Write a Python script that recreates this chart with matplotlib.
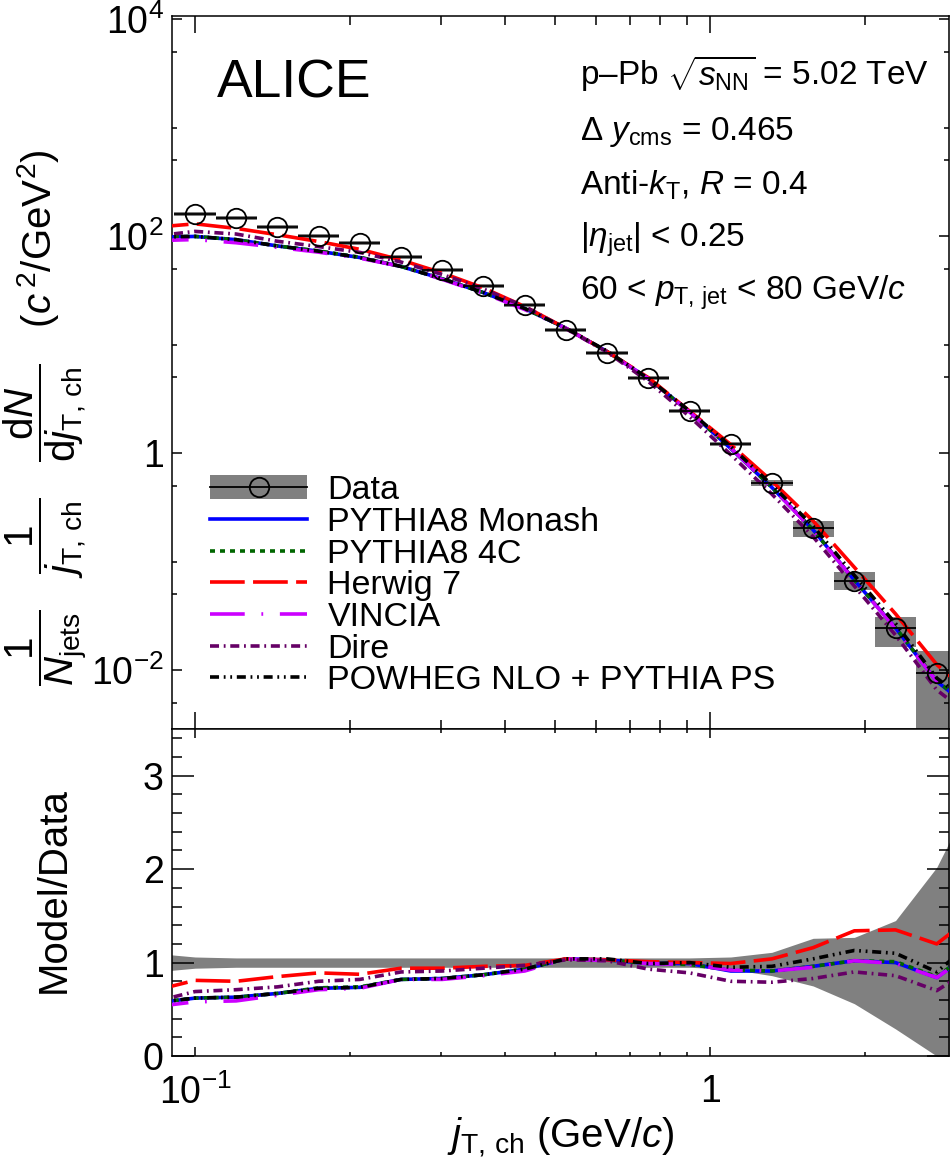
import matplotlib
matplotlib.use('Agg')
import matplotlib.pyplot as plt
import numpy as np
from matplotlib.patches import Patch
from matplotlib.lines import Line2D
from matplotlib.legend_handler import HandlerTuple
from matplotlib.ticker import FixedLocator, FixedFormatter, NullFormatter

plt.rcParams['font.family'] = ['Liberation Sans', 'DejaVu Sans']
plt.rcParams['mathtext.fontset'] = 'custom'
plt.rcParams['mathtext.rm'] = 'Liberation Sans'
plt.rcParams['mathtext.it'] = 'Liberation Sans:italic'
plt.rcParams['mathtext.sf'] = 'Liberation Sans'
plt.rcParams['lines.scale_dashes'] = False

# jT bin centres (first and last entry sit just outside the frame, only used for curves/band)
jt = np.array([0.0832, 0.1, 0.1202, 0.1445, 0.1738, 0.2089, 0.2512, 0.3020, 0.3631, 0.4365,
               0.5248, 0.6310, 0.7586, 0.9120, 1.0965, 1.3183, 1.5849, 1.9055, 2.2909,
               2.7542, 3.311])
# bin edges of the measured points
bin_lo = np.array([0.0912, 0.1096, 0.1318, 0.1585, 0.1905, 0.2291, 0.2754, 0.3311, 0.3981,
                   0.4786, 0.5754, 0.6918, 0.8318, 1.0, 1.2023, 1.4454, 1.7378, 2.0893, 2.5119])
bin_hi = np.array([0.1096, 0.1318, 0.1585, 0.1905, 0.2291, 0.2754, 0.3311, 0.3981, 0.4786,
                   0.5754, 0.6918, 0.8318, 1.0, 1.2023, 1.4454, 1.7378, 2.0893, 2.5119, 3.0200])

data = np.array([172, 160, 147, 121, 100, 86.2, 64.0, 48.6, 34.6, 23.1, 13.6, 8.36, 4.91,
                 2.44, 1.21, 0.529, 0.204, 0.0661, 0.0244, 0.00937, 0.0034])
# systematic boxes (relative)
box_up = np.array([0.04, 0.04, 0.04, 0.04, 0.04, 0.04, 0.04, 0.04, 0.04, 0.04, 0.04, 0.04,
                   0.04, 0.05, 0.06, 0.17, 0.21, 0.27, 0.60])
box_dn = np.array([0.04, 0.04, 0.04, 0.04, 0.04, 0.04, 0.04, 0.04, 0.04, 0.04, 0.04, 0.04,
                   0.04, 0.05, 0.06, 0.18, 0.18, 0.33, 0.99])
# data uncertainty band in the ratio
band_up = np.array([0.10, 0.06, 0.05, 0.05, 0.05, 0.05, 0.05, 0.05, 0.05, 0.05, 0.05, 0.05,
                    0.05, 0.05, 0.06, 0.11, 0.26, 0.27, 0.45, 1.02, 1.9])
band_dn = np.array([0.10, 0.06, 0.05, 0.05, 0.05, 0.05, 0.05, 0.05, 0.05, 0.05, 0.05, 0.05,
                    0.05, 0.05, 0.07, 0.14, 0.25, 0.44, 0.71, 1.0, 1.0])

# model / data
r_monash = np.array([0.566, 0.62, 0.63, 0.67, 0.725, 0.735, 0.82, 0.83, 0.87, 0.93, 1.04, 1.03,
                     0.99, 0.99, 0.91, 0.91, 0.96, 1.02, 1.00, 0.84, 1.16])
r_4c = np.array([0.57, 0.62, 0.63, 0.67, 0.73, 0.74, 0.82, 0.83, 0.87, 0.93, 1.04, 1.03,
                 0.99, 0.98, 0.92, 0.91, 0.96, 1.02, 1.01, 0.85, 1.17])
r_herwig = np.array([0.70, 0.81, 0.80, 0.85, 0.89, 0.875, 0.94, 0.94, 0.96, 0.97, 1.04, 1.03,
                     1.01, 1.00, 0.99, 1.04, 1.16, 1.34, 1.35, 1.20, 1.54])
r_vincia = np.array([0.527, 0.58, 0.59, 0.65, 0.71, 0.725, 0.82, 0.82, 0.86, 0.91, 1.04, 1.02,
                     0.99, 0.98, 0.92, 0.91, 0.95, 1.02, 0.99, 0.84, 1.15])
r_dire = np.array([0.58, 0.69, 0.71, 0.74, 0.80, 0.82, 0.90, 0.91, 0.94, 0.97, 1.03, 1.02,
                   0.93, 0.89, 0.80, 0.79, 0.83, 0.90, 0.86, 0.70, 0.98])
r_powheg = np.array([0.57, 0.62, 0.63, 0.67, 0.725, 0.735, 0.82, 0.83, 0.87, 0.93, 1.04, 1.04,
                     0.99, 1.00, 0.95, 0.96, 1.04, 1.13, 1.10, 0.90, 1.27])

models = [
    ('PYTHIA8 Monash', r_monash, '#0000ff', None),
    ('PYTHIA8 4C', r_4c, '#006600', (3.6, 3.6)),
    ('Herwig 7', r_herwig, '#ff0000', (25, 6)),
    ('VINCIA', r_vincia, '#cc00ff', (25, 12, 1.3, 12)),
    ('Dire', r_dire, '#660066', (6.5, 3.4, 1.3, 3.4)),
    ('POWHEG NLO + PYTHIA PS', r_powheg, '#000000', (6.5, 3.4, 1.3, 3.4, 1.3, 3.4)),
]

gray = '#808080'
lw = 2.6
fs_tick = 27
fs_lab = 29
fs_txt = 24

fig = plt.figure(figsize=(9.5, 11.62), dpi=100)
ax1 = fig.add_axes([0.181, 0.3726, 0.818, 0.6136])
ax2 = fig.add_axes([0.181, 0.0912, 0.818, 0.2814])

pts = data[1:-1]
jc = jt[1:-1]

# top panel
ax1.bar(bin_lo, pts * (box_up + box_dn), width=bin_hi - bin_lo, bottom=pts * (1 - box_dn),
        align='edge', color=gray, lw=0, zorder=1)
for name, r, col, dash in models:
    if dash is None:
        ax1.plot(jt, data * r, color=col, lw=lw, zorder=3)
    else:
        ax1.plot(jt, data * r, color=col, lw=lw, dashes=dash, zorder=3)
ax1.hlines(pts, bin_lo, bin_hi, colors='k', lw=1.3, zorder=4)
ax1.plot(jc, pts, 'o', ms=14, mfc='none', mec='k', mew=1.3, zorder=5)

ax1.set_xscale('log')
ax1.set_yscale('log')
ax1.set_xlim(0.0902, 2.91)
ax1.set_ylim(2.86e-3, 1.066e4)

# ratio panel
ax2.fill_between(jt, 1 - band_dn, 1 + band_up, color=gray, lw=0, zorder=1)
for name, r, col, dash in models:
    if dash is None:
        ax2.plot(jt, r, color=col, lw=lw, zorder=3)
    else:
        ax2.plot(jt, r, color=col, lw=lw, dashes=dash, zorder=3)
ax2.set_xscale('log')
ax2.set_xlim(0.0902, 2.91)
ax2.set_ylim(0, 3.5)

xmaj = [0.1, 1]
xmin = [0.2, 0.3, 0.4, 0.5, 0.6, 0.7, 0.8, 0.9, 2]
for ax in (ax1, ax2):
    ax.xaxis.set_major_locator(FixedLocator(xmaj))
    ax.xaxis.set_minor_locator(FixedLocator(xmin))
    ax.xaxis.set_minor_formatter(NullFormatter())
    for s in ax.spines.values():
        s.set_linewidth(1.1)
    ax.tick_params(which='both', direction='in', top=True, right=True, width=1.1,
                   labelsize=fs_tick)

ax1.xaxis.set_major_formatter(NullFormatter())
ax1.yaxis.set_major_locator(FixedLocator([1e-2, 1, 1e2, 1e4]))
ax1.yaxis.set_major_formatter(FixedFormatter(['$10^{-2}$', '1', '$10^{2}$', '$10^{4}$']))
ax1.yaxis.set_minor_locator(FixedLocator([5e-3, 5e-2, 0.1, 0.5, 5, 10, 50, 500, 1000, 5000]))
ax1.yaxis.set_minor_formatter(NullFormatter())
ax1.tick_params(axis='x', which='major', length=12)
ax1.tick_params(axis='x', which='minor', length=6.5)
ax1.tick_params(axis='y', which='major', length=7, pad=6)
ax1.tick_params(axis='y', which='minor', length=3.5)

ax2.xaxis.set_major_formatter(FixedFormatter(['$10^{-1}$', '1']))
ax2.yaxis.set_major_locator(FixedLocator([0, 1, 2, 3]))
ax2.yaxis.set_minor_locator(FixedLocator([0.2, 0.4, 0.6, 0.8, 1.2, 1.4, 1.6, 1.8, 2.2, 2.4,
                                          2.6, 2.8, 3.2, 3.4]))
ax2.tick_params(axis='x', which='major', length=6.5, pad=13)
ax2.tick_params(axis='x', which='minor', length=3.2)
ax2.tick_params(axis='y', which='major', length=16, pad=6)
ax2.tick_params(axis='y', which='minor', length=7)

# legend
handles = [(Patch(facecolor=gray, lw=0),
            Line2D([], [], color='k', lw=1.3, marker='o', ms=14, mfc='none', mec='k', mew=1.3))]
labels = ['Data']
for name, r, col, dash in models:
    if dash is None:
        handles.append(Line2D([], [], color=col, lw=lw))
    else:
        handles.append(Line2D([], [], color=col, lw=lw, dashes=dash))
    labels.append(name)
ax1.legend(handles, labels, loc='upper left', bbox_to_anchor=(0.049, 0.356), frameon=False,
           fontsize=24.5, handlelength=2.85, handletextpad=0.6, labelspacing=0.02,
           borderpad=0, borderaxespad=0, handler_map={tuple: HandlerTuple(ndivide=1)})

# texts
fig.text(0.228, 1 - 98 / 1162, 'ALICE', fontsize=38.5, va='baseline')
info = ['p\u2013Pb $\\sqrt{s_{\\mathrm{NN}}}$ = 5.02 TeV',
        '\u0394 $y_{\\mathrm{cms}}$ = 0.465',
        'Anti-$k_{\\mathrm{T}}$, $R$ = 0.4',
        '$|\\eta_{\\mathrm{jet}}|$ < 0.25',
        '60 < $p_{\\mathrm{T,\\,jet}}$ < 80 GeV/$c$']
base = [85, 140, 195, 247, 300]
for t, b in zip(info, base):
    fig.text(0.6105, 1 - b / 1162, t, fontsize=fs_txt, va='baseline')

fig.text(0.048, 1 - 418 / 1162,
         r'$\dfrac{1}{N_{\mathrm{jets}}}\quad\dfrac{1}{j_{\mathrm{T,\,ch}}}\quad'
         r'\dfrac{\mathrm{d}N}{\mathrm{d}j_{\mathrm{T,\,ch}}}\quad(c^{\,2}/\mathrm{GeV}^{2})$',
         fontsize=fs_lab, rotation=90, ha='center', va='center')
fig.text(0.057, 1 - 890 / 1162, 'Model/Data', fontsize=fs_lab, rotation=90,
         ha='center', va='center')
fig.text(0.59, 1 - 1138 / 1162, r'$j_{\mathrm{T,\,ch}}$ (GeV/$c$)', fontsize=fs_lab,
         ha='center', va='center')

fig.savefig('out.png', dpi=100)
